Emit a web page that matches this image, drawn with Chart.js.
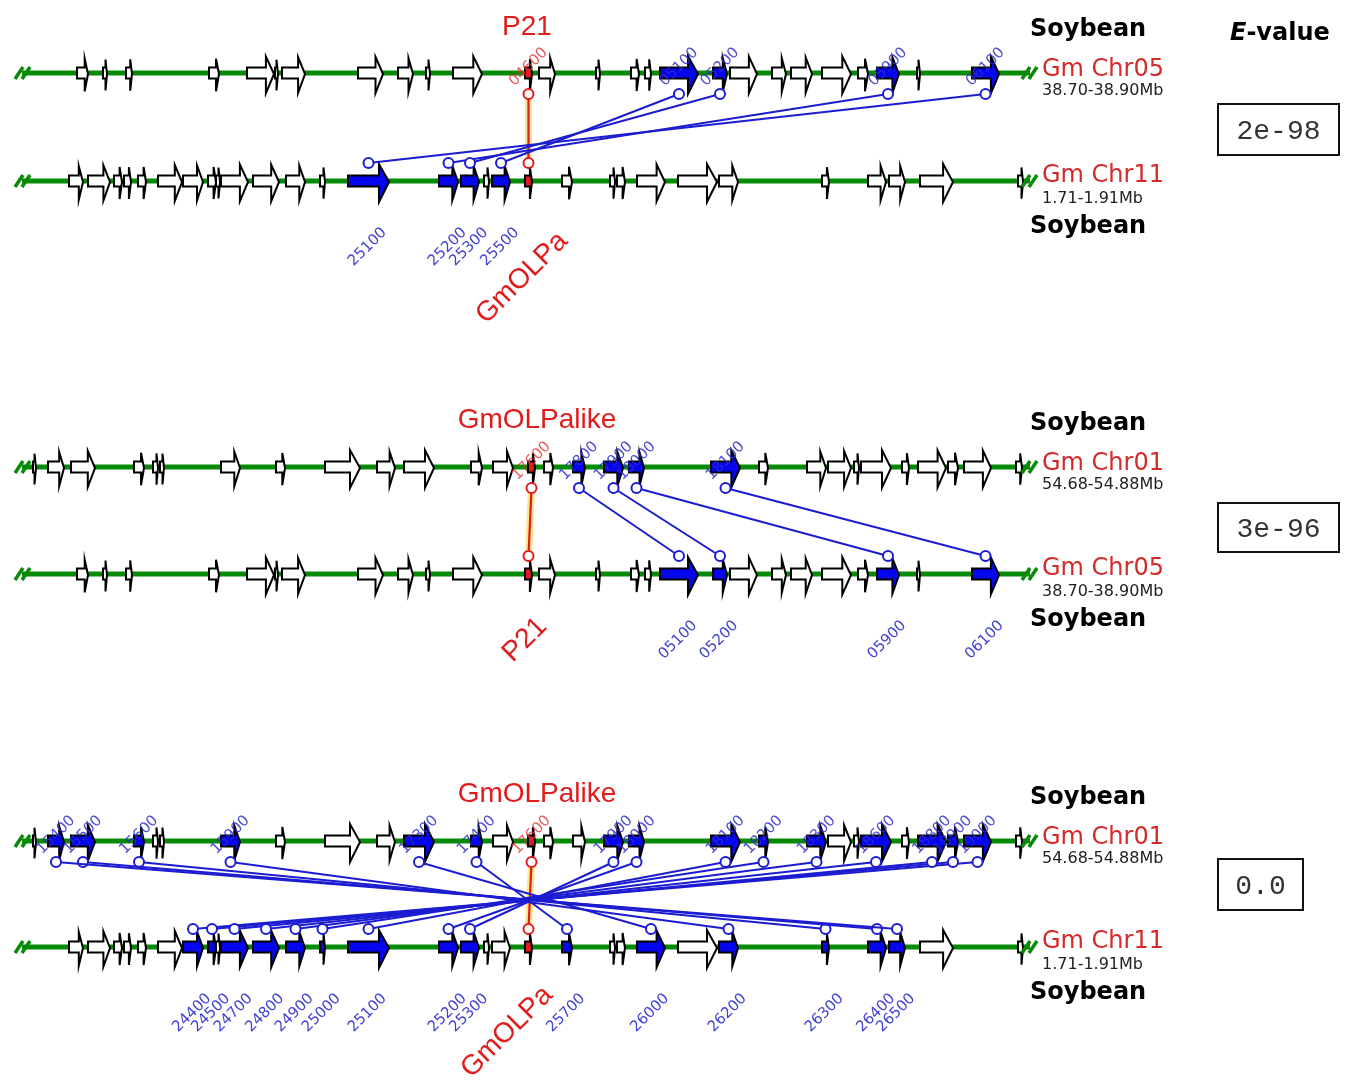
<!DOCTYPE html>
<html><head><meta charset="utf-8">
<script src="https://cdn.jsdelivr.net/npm/chart.js@4.4.1/dist/chart.umd.min.js"></script>
<style>html,body{margin:0;padding:0;background:#fff}canvas{display:block}</style>
</head><body>
<canvas id="c" width="1350" height="1091"></canvas>
<script>
// ---- DATA (positions in kb inside each 200-kb window) ----
const chr05Genes = [[10.4,12.6],[15.6,16.4],[20.2,21.4],[36.8,38.8],[44.4,49.8],[50.0,50.6],[51.4,56.0],[66.6,71.6],[74.6,77.6],[80.2,81.0],[85.6,91.4],[100.0,101.4,'04600'],[102.8,106.0],[114.2,115.0],[121.2,122.8],[124.0,125.2],[127.0,134.6,'05100'],[137.6,140.4,'05200'],[141.0,146.4],[149.4,152.2],[153.2,157.4],[159.4,165.2],[166.6,168.6],[170.4,174.8,'05900'],[178.4,179.0],[189.4,194.8,'06100']];
const chr11Genes = [[8.8,11.6],[12.6,17.0],[17.8,19.4],[19.8,21.2],[22.6,24.2],[26.6,31.4],[31.6,35.6,'24400'],[36.6,38.2,'24500'],[38.2,39.0],[39.2,44.6,'24700'],[45.6,50.8,'24800'],[52.2,56.0,'24900'],[59.0,60.0,'25000'],[64.6,72.8,'25100'],[82.8,86.6,'25200'],[87.2,90.8,'25300'],[91.8,92.8],[93.4,97.0,'25500'],[100.0,101.4,'GmOLPa'],[107.4,109.4,'25700'],[117.0,118.0],[118.4,120.0],[122.4,128.0,'26000'],[130.6,138.4],[138.8,142.6,'26200'],[159.4,160.8,'26300'],[168.6,172.2,'26400'],[172.8,176.0,'26500'],[179.0,185.6],[198.6,199.6]];
const chr01Genes = [[1.6,2.2],[4.6,7.8,'15400'],[9.2,14.0,'15500'],[21.8,23.8,'15600'],[25.6,26.6],[27.0,27.8],[39.2,43.0,'15900'],[50.2,52.0],[60.0,67.0],[70.4,74.0],[75.8,81.8,'17300'],[89.2,91.4,'17400'],[93.6,97.6],[100.6,102.0,'17600'],[103.8,105.6],[109.6,112.0,'17800'],[115.8,119.6,'17900'],[120.8,123.8,'18000'],[137.2,143.0,'18100'],[146.8,148.6,'18200'],[156.4,160.2,'18300'],[160.6,165.2],[165.8,166.8],[167.2,173.2,'18600'],[175.4,176.8],[178.6,184.2,'18800'],[184.6,186.6,'18900'],[187.8,193.2,'19000'],[198.2,199.4]];

const panel1Links = [['05100','25500'],['05200','25300'],['05900','25200'],['06100','25100']];
const panel2Links = [['17800','05100'],['17900','05200'],['18000','05900'],['18100','06100']];
const panel3Links = [['15400','26500'],['15500','26400'],['15600','26300'],['15900','26200'],['17300','26000'],['17400','25700'],['17900','25300'],['18000','25200'],['18100','25100'],['18200','25000'],['18300','24900'],['18600','24800'],['18800','24700'],['18900','24500'],['19000','24400']];

const eValues = ['2e-98','3e-96','0.0'];
const chromNames = {chr05:'Gm Chr05', chr11:'Gm Chr11', chr01:'Gm Chr01'};
const chromRanges = {chr05:'38.70-38.90Mb', chr11:'1.71-1.91Mb', chr01:'54.68-54.88Mb'};
const focusIds = {chr05:'04600', chr11:'GmOLPa', chr01:'17600'};
const focusNames = {chr05:'P21', chr11:'GmOLPa', chr01:'GmOLPalike'};
const speciesName = 'Soybean';
const chromStart = -0.6, chromEnd = 201;

// ---- LAYOUT ----
const genes = {chr05:chr05Genes, chr11:chr11Genes, chr01:chr01Genes};
const panels = [
  {top:'chr05', bot:'chr11', yTop:73,  yBot:181, links:panel1Links, box:[1218,104,121,51], topName:[527,35],  botName:[522,278]},
  {top:'chr01', bot:'chr05', yTop:467, yBot:574, links:panel2Links, box:[1218,503,121,49], topName:[537,428], botName:[525,640]},
  {top:'chr01', bot:'chr11', yTop:841, yBot:947, links:panel3Links, box:[1218,859,85,51],  topName:[537,802], botName:[507,1032]}
];
const GREEN='#078a07', BLUE='#1c1cd0', GENE_BLUE='#0505ee', RED='#e01c1c';

function center(chr,id){ const g=genes[chr].find(r=>r[2]===id); return (g[0]+g[1])/2; }

const datasets=[];
panels.forEach(p=>{
  [[p.top,p.yTop],[p.bot,p.yBot]].forEach(([c,y])=>{
    datasets.push({kind:'chrom', data:[{x:chromStart,y:y},{x:chromEnd,y:y}], borderColor:GREEN, borderWidth:5, pointRadius:0, order:10});
  });
  p.links.forEach(([a,b])=>{
    datasets.push({kind:'link', data:[{x:center(p.top,a),y:p.yTop+21},{x:center(p.bot,b),y:p.yBot-18}],
      borderColor:BLUE, borderWidth:2, pointRadius:5, pointBorderWidth:2, pointBorderColor:BLUE, pointBackgroundColor:'#fff', order:1});
  });
  const fa=center(p.top,focusIds[p.top]), fb=center(p.bot,focusIds[p.bot]);
  datasets.push({kind:'glow', data:[{x:fa,y:p.yTop+21},{x:fb,y:p.yBot-18}], borderColor:'rgba(255,205,40,0.55)', borderWidth:7, pointRadius:0, order:3});
  datasets.push({kind:'link', data:[{x:fa,y:p.yTop+21},{x:fb,y:p.yBot-18}], borderColor:RED, borderWidth:2.2, pointRadius:5, pointBorderWidth:2, pointBorderColor:RED, pointBackgroundColor:'#fff', order:1});
});

function drawGene(ctx,x0,x1,y,fill){
  const w=x1-x0;
  const head=Math.min(10,Math.max(1.5,w*0.3));
  const xh=x1-head, bh=5.5;
  const ht=13+Math.min(4,w/8), hb=ht+4;
  ctx.beginPath();
  ctx.moveTo(x0,y-bh); ctx.lineTo(xh,y-bh); ctx.lineTo(xh,y-ht);
  ctx.lineTo(x1,y+1); ctx.lineTo(xh,y+hb); ctx.lineTo(xh,y+bh);
  ctx.lineTo(x0,y+bh); ctx.closePath();
  ctx.fillStyle=fill; ctx.fill();
  ctx.lineWidth=2; ctx.strokeStyle='#000'; ctx.lineJoin='miter'; ctx.stroke();
}

function drawAllGenes(chart){
  const ctx=chart.ctx, xs=chart.scales.x, ys=chart.scales.y;
  ctx.save();
  panels.forEach(p=>{
    [[p.top,p.yTop,0],[p.bot,p.yBot,1]].forEach(([c,y,side])=>{
      const hl=new Set(p.links.map(l=>l[side]));
      const py=ys.getPixelForValue(y);
      genes[c].forEach(g=>{
        let fill='#fff';
        if(g[2]===focusIds[c]) fill=RED; else if(g[2]&&hl.has(g[2])) fill=GENE_BLUE;
        drawGene(ctx,xs.getPixelForValue(g[0]),xs.getPixelForValue(g[1]),py,fill);
      });
    });
  });
  ctx.restore();
}

function rotText(ctx,t,x,y,font,color){
  ctx.save(); ctx.translate(x,y); ctx.rotate(-Math.PI/4);
  ctx.font=font; ctx.fillStyle=color; ctx.textAlign='center'; ctx.textBaseline='middle';
  ctx.fillText(t,0,0); ctx.restore();
}

function drawAnnotations(chart){
  const ctx=chart.ctx, xs=chart.scales.x, ys=chart.scales.y;
  ctx.save();
  panels.forEach((p,pi)=>{
    [p.yTop,p.yBot].forEach(y=>{
      const py=ys.getPixelForValue(y);
      const xa=xs.getPixelForValue(chromStart), xb=xs.getPixelForValue(chromEnd);
      ctx.strokeStyle=GREEN; ctx.lineWidth=3.5;
      [xa-3,xa+4,xb-4,xb+3].forEach(x=>{ctx.beginPath();ctx.moveTo(x-4,py+6);ctx.lineTo(x+4,py-6);ctx.stroke();});
    });
    const lf='15px "DejaVu Sans"';
    p.links.forEach(([a,b])=>{
      rotText(ctx,a,xs.getPixelForValue(center(p.top,a)),ys.getPixelForValue(p.yTop)-6,lf,'rgba(45,45,205,0.85)');
      rotText(ctx,b,xs.getPixelForValue(center(p.bot,b))-1,ys.getPixelForValue(p.yBot)+66,lf,'rgba(45,45,205,0.9)');
    });
    rotText(ctx,focusIds[p.top],xs.getPixelForValue(center(p.top,focusIds[p.top])),ys.getPixelForValue(p.yTop)-6,lf,'rgba(225,50,50,0.8)');
    ctx.font='28px "Liberation Sans"'; ctx.fillStyle=RED; ctx.textAlign='center'; ctx.textBaseline='alphabetic';
    ctx.fillText(focusNames[p.top],p.topName[0],p.topName[1]);
    rotText(ctx,focusNames[p.bot],p.botName[0],p.botName[1],'28px "Liberation Sans"',RED);
    ctx.textAlign='left'; ctx.textBaseline='alphabetic';
    ctx.font='bold 24px "DejaVu Sans"'; ctx.fillStyle='#000';
    ctx.fillText(speciesName,1030,p.yTop-37);
    ctx.fillText(speciesName,1030,p.yBot+52);
    ctx.font='24px "DejaVu Sans"'; ctx.fillStyle='#d42a2a';
    ctx.fillText(chromNames[p.top],1042,p.yTop+3);
    ctx.fillText(chromNames[p.bot],1042,p.yBot+1);
    ctx.font='16px "DejaVu Sans"'; ctx.fillStyle='#222';
    ctx.fillText(chromRanges[p.top],1042,p.yTop+22);
    ctx.fillText(chromRanges[p.bot],1042,p.yBot+22);
    const [bx,by,bw,bh]=p.box;
    ctx.strokeStyle='#111'; ctx.lineWidth=2; ctx.strokeRect(bx,by,bw,bh);
    ctx.font='28px "Liberation Mono"'; ctx.fillStyle='#333'; ctx.textAlign='center'; ctx.textBaseline='middle';
    ctx.fillText(eValues[pi],bx+bw/2,by+bh/2+2);
  });
  ctx.textAlign='left'; ctx.textBaseline='alphabetic'; ctx.fillStyle='#000';
  ctx.font='italic bold 24px "DejaVu Sans"'; ctx.fillText('E',1230,40);
  const w=ctx.measureText('E').width;
  ctx.font='bold 24px "DejaVu Sans"'; ctx.fillText('-value',1230+w,40);
  ctx.restore();
}

const genePlugin={
  id:'genes',
  beforeDatasetsDraw(chart){chart.$genesDone=false;},
  beforeDatasetDraw(chart,args){
    const ds=chart.data.datasets[args.index];
    if(ds.kind!=='chrom'&&!chart.$genesDone){drawAllGenes(chart);chart.$genesDone=true;}
  },
  afterDatasetsDraw(chart){
    if(!chart.$genesDone){drawAllGenes(chart);chart.$genesDone=true;}
    drawAnnotations(chart);
  }
};

new Chart(document.getElementById('c'),{
  type:'line',
  data:{datasets},
  options:{
    responsive:false, animation:false, devicePixelRatio:1, events:[],
    layout:{padding:0, autoPadding:false},
    plugins:{legend:{display:false},tooltip:{enabled:false}},
    scales:{
      x:{type:'linear',min:-5,max:265,display:false},
      y:{type:'linear',min:0,max:1091,reverse:true,display:false}
    }
  },
  plugins:[genePlugin]
});
</script>
</body></html>
